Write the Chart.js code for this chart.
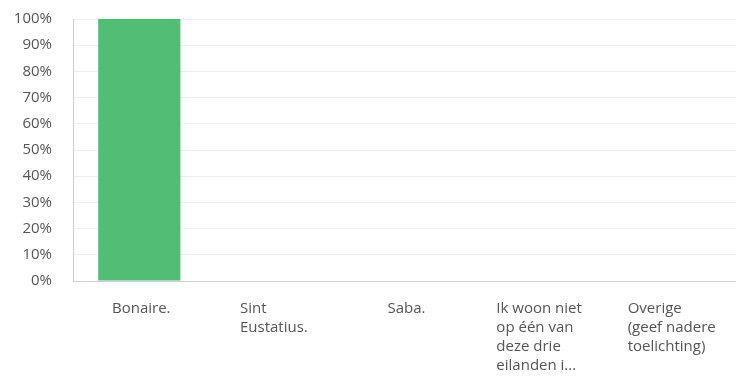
<!DOCTYPE html>
<html>
<head>
<meta charset="utf-8">
<script src="https://cdn.jsdelivr.net/npm/chart.js@4"></script>
<style>
html,body{margin:0;padding:0;background:#fff;}
#wrap{width:736px;height:376px;}
</style>
</head>
<body>
<div id="wrap"><canvas id="c" width="736" height="376"></canvas></div>
<script>
const categories = [
  ["Bonaire."],
  ["Sint", "Eustatius."],
  ["Saba."],
  ["Ik woon niet", "op één van", "deze drie", "eilanden i..."],
  ["Overige", "(geef nadere", "toelichting)"]
];
const values = [100, 0, 0, 0, 0];
const yTicks = [0, 10, 20, 30, 40, 50, 60, 70, 80, 90, 100];

const LABEL_FONT = '15px "Open Sans", sans-serif';
const LABEL_COLOR = '#555555';

const leftBlockLabels = {
  id: 'leftBlockLabels',
  afterDraw(chart) {
    const xs = chart.scales.x;
    const ctx = chart.ctx;
    ctx.save();
    ctx.font = LABEL_FONT;
    ctx.fillStyle = LABEL_COLOR;
    ctx.textBaseline = 'top';
    ctx.textAlign = 'left';
    categories.forEach((lines, i) => {
      const cx = xs.getPixelForTick(i);
      const w = Math.max(...lines.map(l => ctx.measureText(l).width));
      const x0 = cx - w / 2 + 2;
      lines.forEach((l, j) => {
        ctx.fillText(l, x0, xs.top + 20 + j * 19);
      });
    });
    ctx.restore();
  }
};

new Chart(document.getElementById('c'), {
  type: 'bar',
  data: {
    labels: categories,
    datasets: [{
      data: values,
      backgroundColor: '#52bd74',
      borderWidth: 0,
      categoryPercentage: 0.62,
      barPercentage: 1.0
    }]
  },
  options: {
    responsive: false,
    animation: false,
    devicePixelRatio: 1,
    layout: { padding: { top: 19, right: 0, left: 0, bottom: 0 } },
    plugins: { legend: { display: false }, tooltip: { enabled: false } },
    scales: {
      x: {
        grid: { display: false, drawTicks: false },
        border: { display: true, color: '#cfcfcf', width: 1 },
        ticks: { color: 'rgba(0,0,0,0)', maxRotation: 0, autoSkip: false, font: { size: 13 } },
        afterFit(s) { s.height = 95; s.paddingLeft = 0; s.paddingRight = 0; }
      },
      y: {
        min: 0, max: 100,
        afterBuildTicks(s) { s.ticks = yTicks.map(v => ({ value: v })); },
        grid: { color: '#efefef', lineWidth: 1, drawTicks: false },
        border: { display: true, color: '#cfcfcf', width: 1 },
        ticks: {
          color: '#555555',
          padding: 21,
          font: { family: '"Open Sans", sans-serif', size: 15 },
          callback: v => v + '%'
        },
        afterFit(s) { s.width = 73; s.paddingTop = 0; s.paddingBottom = 0; }
      }
    }
  },
  plugins: [leftBlockLabels]
});
</script>
</body>
</html>
